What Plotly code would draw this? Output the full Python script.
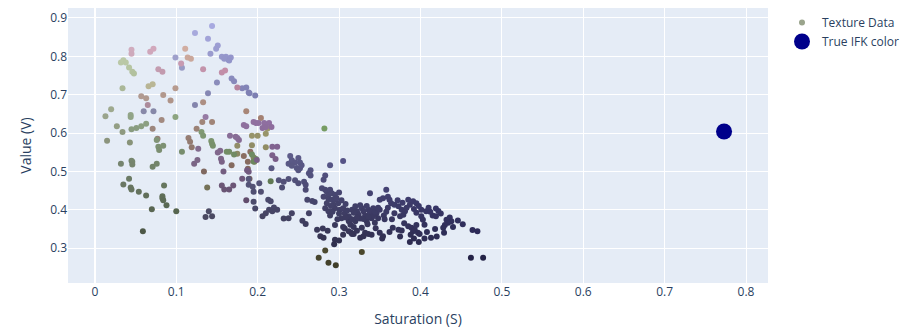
import colorsys
import plotly.graph_objects as go

# ---- Texture data, grouped by approximate hue (degrees) ----
gray_hue = 85
gray_s = [0.013, 0.032, 0.035, 0.038, 0.042, 0.046, 0.048, 0.034, 0.020, 0.027, 0.034, 0.015, 0.043]
gray_v = [0.644, 0.784, 0.790, 0.784, 0.771, 0.760, 0.755, 0.717, 0.662, 0.618, 0.603, 0.580, 0.575]

lav_hue = 238
lav_s = [0.144, 0.123, 0.139, 0.151, 0.149, 0.142, 0.099, 0.107, 0.156, 0.161, 0.164, 0.167, 0.159,
         0.165, 0.168, 0.171, 0.150, 0.181, 0.186, 0.189, 0.190, 0.197, 0.139, 0.123, 0.060, 0.072]
lav_v = [0.879, 0.861, 0.846, 0.828, 0.820, 0.807, 0.797, 0.770, 0.799, 0.799, 0.791, 0.797, 0.794,
         0.789, 0.742, 0.735, 0.732, 0.717, 0.719, 0.706, 0.704, 0.698, 0.704, 0.673, 0.657, 0.657]

pink_hue = 330
pink_s = [0.106, 0.133, 0.045, 0.045, 0.068, 0.072, 0.078, 0.083, 0.156, 0.160, 0.175, 0.065]
pink_v = [0.781, 0.766, 0.817, 0.807, 0.812, 0.820, 0.766, 0.760, 0.758, 0.763, 0.719, 0.673]

peach_hue = 15
peach_s = [0.111, 0.114, 0.118]
peach_v = [0.820, 0.797, 0.794]

brown_hue = 18
brown_s = [0.099, 0.084, 0.093, 0.057, 0.063, 0.133, 0.071, 0.077, 0.082, 0.132, 0.125, 0.186,
           0.144, 0.204, 0.183, 0.168, 0.191, 0.188, 0.190, 0.119, 0.134, 0.115, 0.117, 0.188]
brown_v = [0.717, 0.699, 0.685, 0.696, 0.691, 0.680, 0.611, 0.585, 0.634, 0.629, 0.611, 0.657,
           0.629, 0.639, 0.540, 0.516, 0.551, 0.525, 0.481, 0.563, 0.500, 0.587, 0.577, 0.507]

olive_hue = 55
olive_s = [0.066, 0.071, 0.193, 0.200, 0.210, 0.193, 0.196, 0.138, 0.175, 0.175, 0.195, 0.212, 0.210]
olive_v = [0.722, 0.727, 0.593, 0.593, 0.598, 0.568, 0.525, 0.458, 0.567, 0.546, 0.536, 0.612, 0.563]

green_hue = 100
green_s = [0.044, 0.044, 0.099, 0.045, 0.051, 0.057, 0.063, 0.131, 0.133, 0.107, 0.143, 0.144, 0.145,
           0.162, 0.165, 0.171, 0.193, 0.216, 0.198, 0.282, 0.076, 0.078, 0.079, 0.084, 0.195]
green_v = [0.647, 0.642, 0.642, 0.610, 0.613, 0.618, 0.624, 0.603, 0.593, 0.551, 0.579, 0.572, 0.567,
           0.551, 0.551, 0.544, 0.544, 0.474, 0.532, 0.612, 0.582, 0.564, 0.556, 0.567, 0.526]

dkgreen_hue = 100
dkgreen_s = [0.032, 0.045, 0.046, 0.046, 0.071, 0.076, 0.035, 0.042, 0.044, 0.045, 0.054, 0.063,
             0.070, 0.059, 0.085, 0.083, 0.083, 0.084, 0.088, 0.100]
dkgreen_v = [0.520, 0.528, 0.525, 0.518, 0.512, 0.520, 0.466, 0.481, 0.458, 0.453, 0.447, 0.437,
             0.401, 0.344, 0.463, 0.435, 0.430, 0.425, 0.412, 0.396]

purple_hue = 280
purple_s = [0.136, 0.166, 0.175, 0.177, 0.183, 0.186, 0.195, 0.198, 0.201, 0.208, 0.214, 0.206,
            0.210, 0.217, 0.173, 0.122, 0.126, 0.127, 0.151, 0.154, 0.155, 0.156, 0.158, 0.156,
            0.159, 0.165, 0.170, 0.181, 0.186, 0.199, 0.218, 0.224, 0.218, 0.222, 0.187, 0.189]
purple_v = [0.642, 0.593, 0.587, 0.582, 0.621, 0.618, 0.629, 0.626, 0.626, 0.626, 0.626, 0.613,
            0.616, 0.616, 0.590, 0.520, 0.530, 0.559, 0.549, 0.554, 0.533, 0.525, 0.500, 0.463,
            0.453, 0.453, 0.463, 0.481, 0.425, 0.530, 0.564, 0.564, 0.542, 0.532, 0.503, 0.499]

navy_hue = 242
navy_s = [0.136, 0.140, 0.144, 0.189, 0.189, 0.194, 0.202, 0.195, 0.204, 0.195, 0.197,
          0.206, 0.210, 0.214, 0.213, 0.216, 0.220, 0.224, 0.218, 0.232, 0.238, 0.242, 0.255,
          0.259, 0.263, 0.217, 0.240, 0.242, 0.250, 0.252, 0.246, 0.238, 0.242, 0.248, 0.252,
          0.254, 0.250, 0.265, 0.263, 0.265, 0.283, 0.289, 0.305, 0.281, 0.226, 0.232, 0.238,
          0.246, 0.250, 0.257, 0.259, 0.259, 0.230, 0.279, 0.283, 0.285, 0.289, 0.287, 0.291,
          0.295, 0.261, 0.267, 0.270, 0.273, 0.280, 0.277, 0.281, 0.295, 0.295, 0.294, 0.307,
          0.312, 0.315, 0.318, 0.464, 0.470, 0.462, 0.477,
          0.281, 0.287, 0.285, 0.291, 0.295, 0.293, 0.299, 0.283, 0.287, 0.289, 0.295, 0.301,
          0.305, 0.307, 0.312, 0.303, 0.316, 0.320, 0.322, 0.324, 0.328, 0.330, 0.332, 0.326,
          0.320, 0.336, 0.338, 0.340, 0.334, 0.342, 0.346, 0.348, 0.344, 0.350, 0.314, 0.328,
          0.332, 0.326, 0.330, 0.336, 0.340, 0.354, 0.353, 0.338, 0.358, 0.350, 0.354, 0.360,
          0.362, 0.364, 0.368, 0.373, 0.377, 0.381, 0.368, 0.375, 0.379, 0.385, 0.391, 0.395,
          0.387, 0.401, 0.407, 0.419, 0.422, 0.401, 0.403, 0.405, 0.415, 0.419, 0.432, 0.436,
          0.438, 0.434, 0.430, 0.428, 0.446, 0.413, 0.429, 0.366, 0.373, 0.377, 0.385, 0.389,
          0.391, 0.393, 0.397, 0.388, 0.399, 0.387, 0.398, 0.312, 0.316, 0.305,
          0.297, 0.300, 0.303, 0.308, 0.310, 0.318, 0.326, 0.334, 0.338, 0.342, 0.330, 0.322,
          0.316, 0.344, 0.348, 0.336, 0.308, 0.300, 0.292, 0.298, 0.335, 0.318, 0.322, 0.345,
          0.355, 0.358, 0.360, 0.356, 0.372, 0.378, 0.383, 0.392, 0.398, 0.410, 0.412, 0.425,
          0.395, 0.395, 0.380, 0.365, 0.362, 0.350, 0.408, 0.418, 0.440, 0.452, 0.420, 0.405,
          0.392, 0.375, 0.305, 0.300, 0.286, 0.290]
navy_v = [0.381, 0.396, 0.383, 0.480, 0.465, 0.460, 0.469, 0.447, 0.447, 0.421, 0.403,
          0.383, 0.391, 0.400, 0.426, 0.422, 0.406, 0.400, 0.396, 0.377, 0.378, 0.391, 0.371,
          0.363, 0.391, 0.508, 0.540, 0.529, 0.535, 0.523, 0.523, 0.520, 0.515, 0.509, 0.508,
          0.516, 0.503, 0.503, 0.495, 0.489, 0.489, 0.516, 0.527, 0.478, 0.477, 0.473, 0.480,
          0.477, 0.469, 0.473, 0.465, 0.452, 0.458, 0.456, 0.452, 0.447, 0.452, 0.439, 0.443,
          0.439, 0.426, 0.423, 0.420, 0.348, 0.351, 0.331, 0.327, 0.360, 0.322, 0.310, 0.351,
          0.370, 0.340, 0.337, 0.347, 0.344, 0.275, 0.275,
          0.434, 0.428, 0.417, 0.426, 0.426, 0.413, 0.417, 0.404, 0.396, 0.385, 0.404, 0.400,
          0.404, 0.391, 0.383, 0.378, 0.400, 0.409, 0.396, 0.387, 0.404, 0.396, 0.385, 0.377,
          0.370, 0.400, 0.389, 0.378, 0.370, 0.404, 0.391, 0.378, 0.366, 0.400, 0.361, 0.353,
          0.340, 0.327, 0.331, 0.337, 0.335, 0.331, 0.325, 0.443, 0.452, 0.426, 0.430, 0.434,
          0.426, 0.417, 0.413, 0.409, 0.400, 0.396, 0.391, 0.383, 0.387, 0.426, 0.422, 0.417,
          0.413, 0.400, 0.396, 0.403, 0.397, 0.383, 0.374, 0.361, 0.385, 0.383, 0.374, 0.380,
          0.370, 0.366, 0.360, 0.353, 0.372, 0.327, 0.340, 0.353, 0.348, 0.346, 0.357, 0.353,
          0.344, 0.348, 0.340, 0.335, 0.337, 0.316, 0.316, 0.344, 0.337, 0.355,
          0.430, 0.445, 0.425, 0.415, 0.398, 0.392, 0.412, 0.410, 0.395, 0.384, 0.376, 0.380,
          0.375, 0.395, 0.405, 0.382, 0.380, 0.390, 0.395, 0.375, 0.362, 0.355, 0.345, 0.352,
          0.385, 0.395, 0.405, 0.375, 0.425, 0.418, 0.405, 0.402, 0.410, 0.405, 0.395, 0.390,
          0.392, 0.360, 0.365, 0.375, 0.342, 0.340, 0.342, 0.350, 0.355, 0.362, 0.330, 0.325,
          0.325, 0.330, 0.335, 0.320, 0.345, 0.410]

dkolive_hue = 55
dkolive_s = [0.275, 0.283, 0.287, 0.296, 0.328]
dkolive_v = [0.275, 0.294, 0.262, 0.255, 0.290]

# True IFK colour
ifk_s = [0.773]
ifk_v = [0.604]

groups = [
    (gray_hue, gray_s, gray_v),
    (lav_hue, lav_s, lav_v),
    (pink_hue, pink_s, pink_v),
    (peach_hue, peach_s, peach_v),
    (brown_hue, brown_s, brown_v),
    (olive_hue, olive_s, olive_v),
    (green_hue, green_s, green_v),
    (dkgreen_hue, dkgreen_s, dkgreen_v),
    (purple_hue, purple_s, purple_v),
    (navy_hue, navy_s, navy_v),
    (dkolive_hue, dkolive_s, dkolive_v),
]

all_s, all_v, all_c = [], [], []
for hue, ss, vv in groups:
    n = min(len(ss), len(vv))
    for s, v in zip(ss[:n], vv[:n]):
        sat = min(1.0, 0.14 + 0.8 * s)  # rendered texture-colour saturation
        r, g, b = colorsys.hsv_to_rgb(hue / 360.0, sat, v)
        all_s.append(s)
        all_v.append(v)
        all_c.append("rgb(%d,%d,%d)" % (round(r * 255), round(g * 255), round(b * 255)))

fig = go.Figure()
fig.add_trace(go.Scatter(
    x=all_s, y=all_v, mode="markers", name="Texture Data",
    marker=dict(size=6, color=all_c),
))
fig.add_trace(go.Scatter(
    x=ifk_s, y=ifk_v, mode="markers", name="True IFK color",
    marker=dict(size=16, color="darkblue"),
))

fig.update_layout(
    template="plotly",
    width=912, height=333,
    margin=dict(l=68, r=140, t=8, b=48),
    xaxis=dict(title=dict(text="Saturation (S)"), range=[-0.033, 0.827]),
    yaxis=dict(title=dict(text="Value (V)"), range=[0.209, 0.926]),
)

fig.write_html("out.html")
